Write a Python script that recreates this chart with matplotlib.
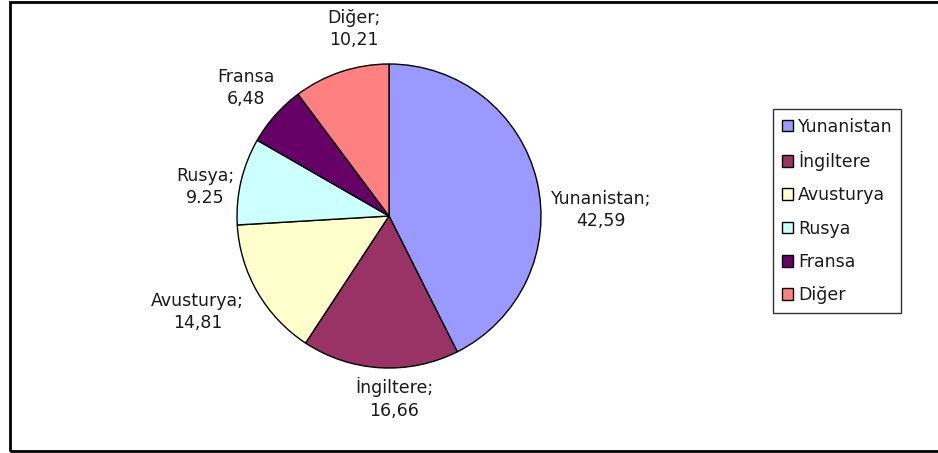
import matplotlib.pyplot as plt
from matplotlib.patches import Rectangle, Patch

# share of each country (%)
countries = ['Yunanistan', 'İngiltere', 'Avusturya', 'Rusya', 'Fransa', 'Diğer']
shares = [42.59, 16.66, 14.81, 9.25, 6.48, 10.21]
value_text = ['42,59', '16,66', '14,81', '9.25', '6,48', '10,21']
separators = [';', ';', ';', ';', '', ';']
colors = ['#9999FF', '#993366', '#FFFFCC', '#CCFFFF', '#660066', '#FF8080']

# label centres, in units of the pie radius
label_pos = [(1.395, 0.04), (0.033, -1.20), (-1.26, -0.63),
             (-1.21, 0.19), (-0.94, 0.84), (-0.23, 1.23)]

plt.rcParams['font.family'] = ['DejaVu Sans']

W, H = 938, 453
fig = plt.figure(figsize=(W / 100, H / 100), dpi=100)

# pie centred at (389, 216) px with radius 152 px
cx, cy, r = 389, 216, 152
ax = fig.add_axes([(cx - r) / W, (H - cy - r) / H, 2 * r / W, 2 * r / H])
wedges, _ = ax.pie(shares, colors=colors, startangle=90, counterclock=False,
                   wedgeprops=dict(edgecolor='black', linewidth=1))
ax.set_xlim(-1, 1)
ax.set_ylim(-1, 1)
ax.set_aspect('equal')
ax.axis('off')

for name, sep, val, (x, y) in zip(countries, separators, value_text, label_pos):
    ax.text(x, y, f'{name}{sep}\n{val}', ha='center', va='center',
            fontsize=12.5, color='#1a1a1a', linespacing=1.3)

# legend
handles = [Patch(facecolor=c, edgecolor='black', linewidth=1) for c in colors]
leg = fig.legend(handles, countries, loc='upper left',
                 bbox_to_anchor=(773 / W, 1 - 109 / H), fontsize=12.5,
                 frameon=True, fancybox=False, edgecolor='black',
                 handlelength=0.65, handleheight=0.65, handletextpad=0.3,
                 labelspacing=0.88, borderpad=0.5, borderaxespad=0)
leg.get_frame().set_linewidth(1)
for t in leg.get_texts():
    t.set_color('#1a1a1a')

# outer chart frame
fig.patches.append(Rectangle((10 / W, 2.5 / H), 1.0, 1 - 4 / H,
                             transform=fig.transFigure, fill=False,
                             edgecolor='black', linewidth=2))

fig.savefig('out.png', dpi=100)
